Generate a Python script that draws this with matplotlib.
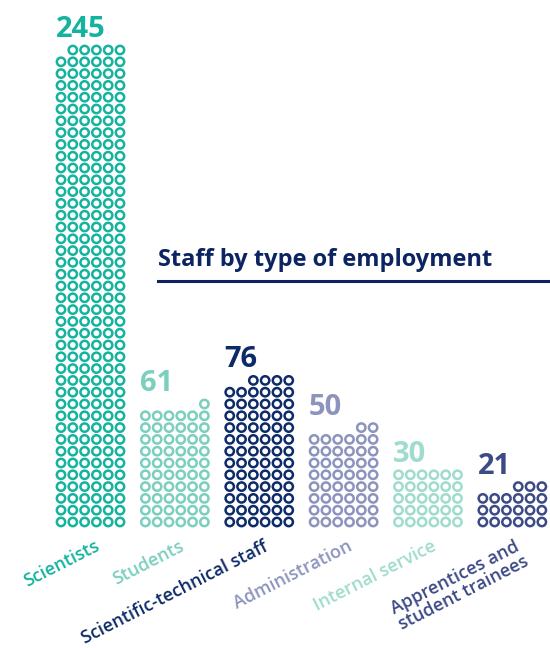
import matplotlib.pyplot as plt
from matplotlib.lines import Line2D

plt.rcParams['font.family'] = ['Open Sans', 'DejaVu Sans']

# data
categories = ['Scientists', 'Students', 'Scientific-technical staff',
              'Administration', 'Internal service',
              'Apprentices and\nstudent trainees']
counts = [245, 61, 76, 50, 30, 21]
colors = ['#14b39e', '#7acfbe', '#0d2b69', '#8c94bd', '#9fdccd', '#3c4a86']
title = 'Staff by type of employment'

per_row = 6          # circles per row
col_pitch = 7.15     # distance between columns, in circle steps

fig = plt.figure(figsize=(5.5, 6.48), dpi=100)
ax = fig.add_axes([0, 0, 1, 1])

# one data unit = one circle step (pixels)
step = 11.8
x0_px, y0_px = 61, 522
ax.set_xlim(-x0_px / step, (550 - x0_px) / step)
ax.set_ylim(-(648 - y0_px) / step, y0_px / step)
ax.axis('off')

for i, (n, c, cat) in enumerate(zip(counts, colors, categories)):
    full, rem = divmod(n, per_row)
    xs, ys = [], []
    for r in range(full):
        for k in range(per_row):
            xs.append(i * col_pitch + k)
            ys.append(r)
    # partial top row is right aligned
    for k in range(per_row - rem, per_row):
        xs.append(i * col_pitch + k)
        ys.append(full)
    ax.scatter(xs, ys, s=36, facecolors='none', edgecolors=c, linewidths=1.8)

    top = full if rem else full - 1
    ax.text(i * col_pitch - 0.45, top + 1.1, str(n), color=c, fontsize=21,
            fontweight='bold', ha='left', va='baseline')

    ax.text(i * col_pitch + 2.8, -1.3, cat, color=c, fontsize=13,
            fontweight='semibold', rotation=27, rotation_mode='anchor',
            ha='right', va='top', multialignment='left', linespacing=0.9)

# title with underline
fig.text(158 / 550, 1 - 266 / 648, title, color='#0c2461', fontsize=17,
         fontweight='bold', ha='left', va='baseline')
fig.add_artist(Line2D([158 / 550, 1.0], [1 - 281 / 648, 1 - 281 / 648],
                      transform=fig.transFigure, color='#0c2461', lw=2.2))

fig.savefig('out.png', dpi=100)
